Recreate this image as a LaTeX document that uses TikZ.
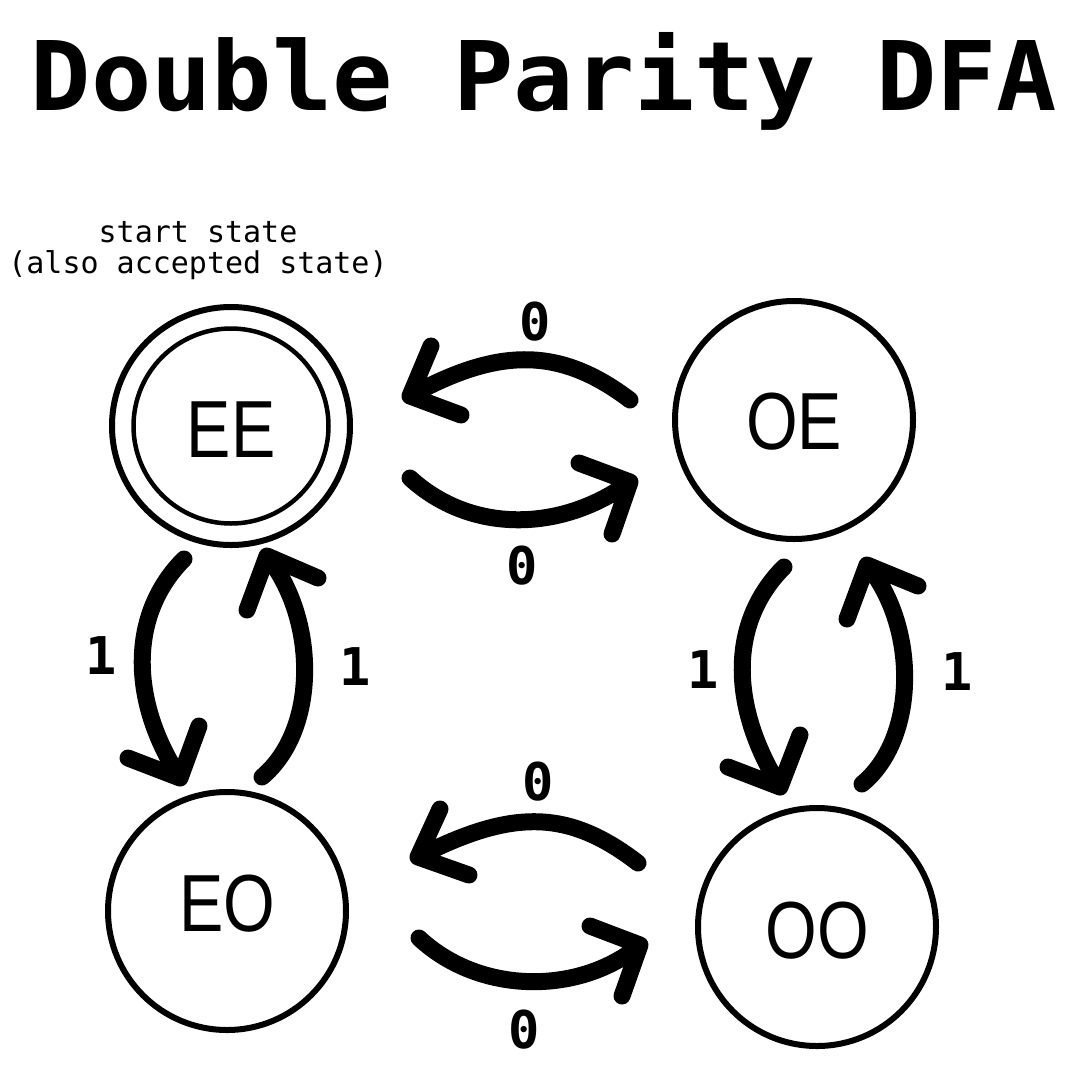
\documentclass[tikz,border=0pt]{standalone}
\usepackage{fontspec}
\usetikzlibrary{calc}
\newfontfamily\titlefont{DejaVu Sans Mono}[FakeStretch=1.045]
\newfontfamily\mymono{DejaVu Sans Mono}
\newfontfamily\statefont{Liberation Sans}[FakeStretch=0.82]
\begin{document}
\begin{tikzpicture}[x=1pt,y=-1pt,
  state/.style={circle, draw, line width=6pt, minimum size=238pt, inner sep=0pt,
                font=\statefont\fontsize{81}{81}\selectfont},
  inring/.style={line width=4.5pt},
  flow/.style={line width=17pt, line cap=round, line join=round},
  sym/.style={font=\mymono\bfseries\fontsize{52}{52}\selectfont, inner sep=0pt},
  note/.style={font=\mymono\fontsize{30}{30}\selectfont, inner sep=0pt, anchor=base}]

\fill[white] (0,0) rectangle (1080,1080);
\useasboundingbox (0,0) rectangle (1080,1080);

% title
\node[font=\titlefont\bfseries\fontsize{96}{96}\selectfont, anchor=base, inner sep=0pt]
  (title) at (544,110) {Double Parity DFA};

% start note
\node[note] (st1) at (198,242) {start state};
\node[note] (st2) at (198,273) {(also accepted state)};

% states
\node[state, text height=62pt, text depth=0pt] (EE) at (231,426) {EE};
\draw[inring] (EE.center) circle[radius=97.5pt];
\node[state, text height=58pt, text depth=0pt] (OE) at (794,420) {OE};
\node[state, text height=58pt, text depth=18pt] (EO) at (227,911) {EO};
\node[state, text height=62pt, text depth=0pt] (OO) at (817,927) {OO};

% top pair
\draw[flow] ($(OE)+(-164,-20)$) .. controls (560,347) and (499,347) .. ($(EE)+(179,-30)$)
  coordinate (a1) -- ++(21,-50) (a1) -- ++(51,19);
\draw[flow] ($(EE)+(179,52)$) .. controls (470,533) and (560,533) .. ($(OE)+(-164,62)$)
  coordinate (a2) -- ++(-51,-19) (a2) -- ++(-18,52);

% bottom pair
\draw[flow] ($(OO)+(-179,-64)$) .. controls (568,809) and (512,809) .. ($(EO)+(191,-54)$)
  coordinate (a3) -- ++(22,-48) (a3) -- ++(51,18);
\draw[flow] ($(EO)+(192,27)$) .. controls (480,995) and (580,995) .. ($(OO)+(-177,18)$)
  coordinate (a4) -- ++(-50,-19) (a4) -- ++(-18,51);

% left pair
\draw[flow] ($(EE)+(-47,133)$) .. controls (129,614) and (129,700) .. ($(EO)+(-47,-133)$)
  coordinate (a5) -- ++(-52,-20) (a5) -- ++(19,-52);
\draw[flow] ($(EO)+(35,-134)$) .. controls (318,730) and (318,620) .. ($(EE)+(36,130)$)
  coordinate (a6) -- ++(-20,54) (a6) -- ++(51,22);

% right pair
\draw[flow] ($(OE)+(-10,147)$) .. controls (729,622) and (729,705) .. ($(OO)+(-37,-140)$)
  coordinate (a7) -- ++(-52,-20) (a7) -- ++(20,-52);
\draw[flow] ($(OO)+(45,-143)$) .. controls (918,738) and (918,626) .. ($(OE)+(73,145)$)
  coordinate (a8) -- ++(-20,54) (a8) -- ++(51,21);

% labels
\node[sym] (z1) at (535,322) {0};
\node[sym] (z2) at (522,566) {0};
\node[sym] (z3) at (538,782) {0};
\node[sym] (z4) at (524,1030) {0};
\node[sym] (u1) at (101,656) {1};
\node[sym] (u2) at (355,667) {1};
\node[sym] (u3) at (703,670) {1};
\node[sym] (u4) at (957,672) {1};
\end{tikzpicture}
\end{document}
